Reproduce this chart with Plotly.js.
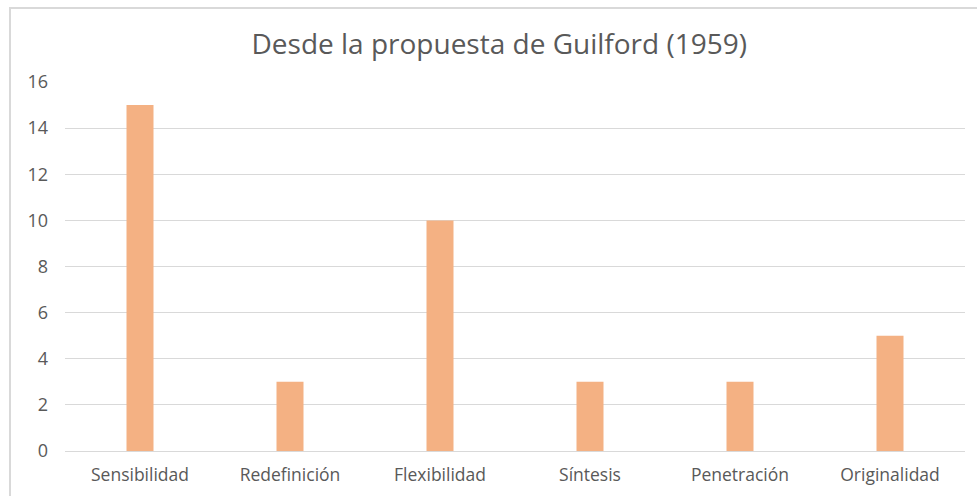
<!DOCTYPE html>
<html>
<head>
<meta charset="utf-8">
<script src="https://cdn.plot.ly/plotly-3.0.1.min.js"></script>
<style>
html,body{margin:0;padding:0;background:#fff;overflow:hidden;}
#frame{position:absolute;left:9px;top:7px;width:980px;height:500px;border:2px solid #d9d9d9;box-sizing:border-box;pointer-events:none;z-index:10;}
#chart{position:absolute;left:0;top:0;width:977px;height:496px;}
</style>
</head>
<body>
<div id="chart"></div>
<div id="frame"></div>
<script>
const categories = ["Sensibilidad", "Redefinición", "Flexibilidad", "Síntesis", "Penetración", "Originalidad"];
const values = [15, 3, 10, 3, 3, 5];
const yTicks = [0, 2, 4, 6, 8, 10, 12, 14, 16];

const trace = {
  type: 'bar',
  x: categories,
  y: values,
  marker: {color: '#F4B183'},
  hoverinfo: 'x+y'
};

const layout = {
  width: 977,
  height: 496,
  margin: {l: 65, r: 12, t: 82, b: 45},
  paper_bgcolor: 'rgba(0,0,0,0)',
  plot_bgcolor: '#ffffff',
  bargap: 0.82,
  showlegend: false,
  font: {family: 'Open Sans, sans-serif', color: '#595959', size: 15},
  title: {
    text: 'Desde la propuesta de Guilford (1959)',
    font: {family: 'Open Sans, sans-serif', size: 28, color: '#595959'},
    xref: 'container', x: 0.511, xanchor: 'center',
    yref: 'container', y: 1 - 44/496, yanchor: 'middle'
  },
  xaxis: {
    type: 'category',
    showgrid: false,
    showline: true,
    linecolor: '#d9d9d9',
    linewidth: 1,
    ticks: '',
    ticklabelstandoff: 8,
    tickfont: {size: 17.5, color: '#595959'}
  },
  yaxis: {
    range: [0, 16],
    tickvals: yTicks,
    showgrid: true,
    gridcolor: '#d9d9d9',
    gridwidth: 1,
    zeroline: false,
    showline: false,
    ticks: '',
    ticklabelstandoff: 16,
    tickfont: {size: 18, color: '#595959'}
  }
};

Plotly.newPlot('chart', [trace], layout, {displayModeBar: false, staticPlot: true});
</script>
</body>
</html>
